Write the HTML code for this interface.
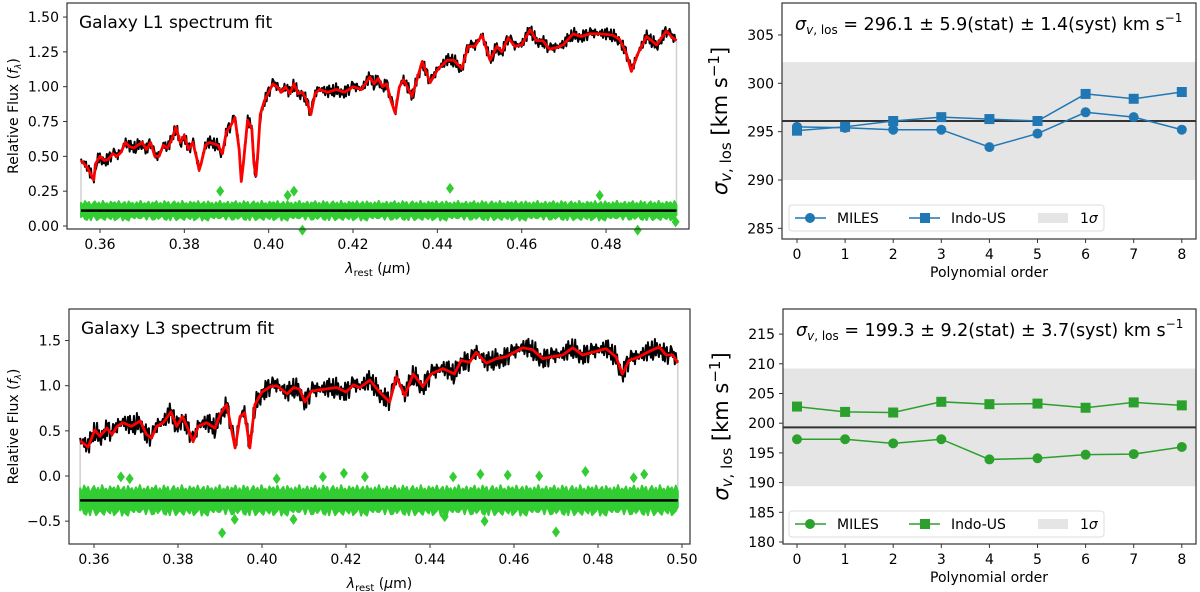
<!DOCTYPE html>
<html><head><meta charset="utf-8">
<style>
html,body{margin:0;padding:0;background:#fff;}
svg{display:block;font-family:"DejaVu Sans","Liberation Sans",sans-serif;}
</style></head>
<body>
<svg id="fig" width="1200" height="592" viewBox="0 0 1200 592" xmlns="http://www.w3.org/2000/svg"></svg>
<script>
// ---------- DATA ----------
const l1Wave = [0.3555,0.357,0.3585,0.359,0.360,0.361,0.362,0.363,0.364,0.365,0.366,0.367,0.368,0.369,0.370,0.371,0.372,0.373,0.374,0.375,0.376,0.377,0.378,0.379,0.380,0.381,0.382,0.383,0.3835,0.384,0.385,0.386,0.387,0.388,0.389,0.390,0.391,0.392,0.393,0.3935,0.394,0.395,0.396,0.3965,0.397,0.3975,0.398,0.399,0.400,0.401,0.402,0.403,0.404,0.405,0.406,0.407,0.408,0.409,0.410,0.411,0.412,0.414,0.416,0.418,0.420,0.422,0.424,0.425,0.426,0.427,0.428,0.429,0.430,0.431,0.432,0.434,0.4364,0.4383,0.440,0.4423,0.4439,0.4458,0.4473,0.4489,0.4506,0.4525,0.4541,0.4553,0.4568,0.4584,0.460,0.462,0.4635,0.465,0.4666,0.4682,0.4698,0.4722,0.4741,0.4761,0.4785,0.4816,0.4832,0.4848,0.486,0.4876,0.4896,0.492,0.4943,0.4955,0.4967];
const l1Model = [0.47,0.42,0.33,0.45,0.50,0.47,0.48,0.52,0.50,0.53,0.60,0.57,0.56,0.58,0.60,0.55,0.60,0.50,0.50,0.58,0.56,0.62,0.71,0.60,0.65,0.55,0.60,0.48,0.40,0.45,0.58,0.60,0.59,0.58,0.52,0.68,0.72,0.78,0.55,0.32,0.45,0.76,0.70,0.45,0.36,0.55,0.80,0.90,0.96,1.02,1.00,0.96,1.00,0.95,1.02,0.95,0.96,0.90,0.80,0.95,0.98,0.96,0.98,0.96,1.00,0.98,1.07,1.02,1.06,1.00,1.02,0.90,0.81,1.00,1.05,0.93,1.18,1.03,1.12,1.19,1.19,1.13,1.29,1.29,1.37,1.19,1.29,1.25,1.35,1.29,1.30,1.41,1.33,1.33,1.27,1.28,1.30,1.38,1.36,1.38,1.38,1.37,1.34,1.24,1.11,1.24,1.36,1.30,1.40,1.36,1.33];
const l1Resid = 0.11;
const l1Outliers = [[0.3885,0.25],[0.4045,0.22],[0.406,0.25],[0.408,-0.03],[0.443,0.27],[0.4785,0.22],[0.4875,-0.03],[0.4965,0.03]];

const l3Wave = [0.3567,0.3586,0.3602,0.3614,0.3631,0.3643,0.3655,0.3669,0.3689,0.3710,0.3725,0.3737,0.3749,0.3765,0.3783,0.3797,0.3811,0.3825,0.3836,0.3848,0.3868,0.3888,0.390,0.3916,0.3936,0.3948,0.3959,0.3971,0.3983,0.400,0.402,0.4035,0.406,0.4075,0.409,0.4102,0.4118,0.4146,0.4178,0.420,0.4218,0.4233,0.4257,0.428,0.4304,0.432,0.434,0.436,0.4383,0.4403,0.4431,0.4458,0.4474,0.4494,0.451,0.4534,0.4558,0.4581,0.4601,0.462,0.4644,0.4668,0.4692,0.4716,0.4740,0.4763,0.4787,0.4819,0.4843,0.4858,0.4874,0.4898,0.4918,0.4946,0.4962,0.4978,0.499];
const l3Model = [0.39,0.32,0.51,0.44,0.53,0.46,0.55,0.59,0.55,0.61,0.46,0.42,0.55,0.59,0.71,0.55,0.66,0.51,0.38,0.55,0.59,0.53,0.68,0.79,0.31,0.66,0.70,0.31,0.79,0.93,0.99,1.00,0.91,0.98,0.96,0.82,0.94,0.96,0.98,0.93,1.01,0.98,1.06,0.93,0.82,1.10,0.89,1.13,0.99,1.13,1.19,1.13,1.28,1.26,1.37,1.25,1.30,1.32,1.37,1.42,1.40,1.30,1.32,1.34,1.42,1.34,1.37,1.41,1.32,1.13,1.28,1.32,1.37,1.43,1.34,1.34,1.25];
const l3Resid = -0.27;
const l3Outliers = [[0.3664,-0.01],[0.3685,-0.03],[0.3905,-0.63],[0.3935,-0.48],[0.4075,-0.48],[0.4035,-0.03],[0.4145,-0.01],[0.4195,0.03],[0.4245,-0.01],[0.4455,-0.01],[0.452,0.02],[0.4585,0.01],[0.466,0.0],[0.477,0.05],[0.4885,-0.02],[0.491,0.02],[0.470,-0.62],[0.453,-0.5],[0.4435,-0.45]];

const noisePattern = [0.3,-0.8,0.9,-0.2,0.6,-1.0,0.1,0.8,-0.5,0.4,-0.9,1.0,-0.3,0.2,-0.7,0.7,-0.1,0.5,-0.6,0.9,-0.4,0.0,0.6,-1.0,0.8,-0.2,0.3,-0.8,0.5,-0.5,1.0,-0.6,0.2,-0.3,0.7,-0.9,0.4,-0.1,0.9,-0.7];

const orders = [0,1,2,3,4,5,6,7,8];
const l1Miles = [295.5,295.4,295.2,295.2,293.4,294.8,297.0,296.5,295.2];
const l1Indo  = [295.1,295.5,296.1,296.5,296.3,296.1,298.9,298.4,299.1];
const l1Sigma = [296.1,5.9,1.4];
const l1Band = [290.0,302.2];
const l1Ticks = [285,290,295,300,305];
const l3Miles = [197.3,197.3,196.6,197.3,193.9,194.1,194.7,194.8,196.0];
const l3Indo  = [202.8,201.9,201.8,203.6,203.2,203.3,202.6,203.5,203.0];
const l3Sigma = [199.3,9.2,3.7];
const l3Band = [189.4,209.2];
const l3Ticks = [180,185,190,195,200,205,210,215];
const l1FluxTicks = [0.00,0.25,0.50,0.75,1.00,1.25,1.50];
const l3FluxTicks = [-0.5,0.0,0.5,1.0,1.5];
const waveTicksTop = [0.36,0.38,0.40,0.42,0.44,0.46,0.48];
const waveTicksBot = [0.36,0.38,0.40,0.42,0.44,0.46,0.48,0.50];

// ---------- DRAWING ----------
const NS="http://www.w3.org/2000/svg";
const svg=document.getElementById('fig');
function mk(tag,attrs,parent){const e=document.createElementNS(NS,tag);for(const k in attrs)e.setAttribute(k,attrs[k]);(parent||svg).appendChild(e);return e;}
function interp(xs,ys,x){if(x<=xs[0])return ys[0];for(let i=1;i<xs.length;i++){if(x<=xs[i]){const t=(x-xs[i-1])/(xs[i]-xs[i-1]);return ys[i-1]+t*(ys[i]-ys[i-1]);}}return ys[ys.length-1];}

function spectrumPanel(o){
  const g=mk('g',{});
  
  
  const X=w=>o.x0+(w-o.w0)*o.kx, Y=f=>o.y0-f*o.ky;
  const wa=o.wave[0], wb=o.wave[o.wave.length-1];
  [wa,wb].forEach(w=>{const l=mk('line',{x1:X(w),x2:X(w),y1:Y(o.resid),y2:Y(interp(o.wave,o.model,w)),stroke:'#d0d0d0','stroke-width':1.5},g);
    });
  const N=300, up=[], lo=[];
  for(let i=0;i<=N;i++){const w=wa+(wb-wa)*i/N;const n=noisePattern[i%noisePattern.length], m=noisePattern[(i*7+3)%noisePattern.length];
    up.push(X(w)+','+Y(o.resid+o.band*(1+0.4*n)));lo.push(X(w)+','+Y(o.resid-o.band*(1+0.4*m)));}
  const band=mk('polygon',{points:up.concat(lo.reverse()).join(' '),fill:'#32cd32',stroke:'#32cd32','stroke-width':2,'stroke-linejoin':'round'},g);
  
  o.outliers.forEach(p=>{const cx=X(p[0]),cy=Y(p[1]);const d=mk('polygon',{points:`${cx},${cy-5.5} ${cx+4},${cy} ${cx},${cy+5.5} ${cx-4},${cy}`,fill:'#32cd32'},g);
    });
  const rl=mk('line',{x1:X(wa),x2:X(wb),y1:Y(o.resid),y2:Y(o.resid),stroke:'#000','stroke-width':2.5},g);
  
  const M=600,pts=[];
  for(let i=0;i<=M;i++){const w=wa+(wb-wa)*i/M;const n=noisePattern[(i*3)%noisePattern.length];pts.push(X(w)+','+Y(interp(o.wave,o.model,w)+o.noise*n));}
  const obs=mk('polyline',{points:pts.join(' '),fill:'none',stroke:'#000','stroke-width':2,'stroke-linejoin':'round'},g);
  
  const mp=o.wave.map((w,i)=>X(w)+','+Y(o.model[i])).join(' ');
  const mod=mk('polyline',{points:mp,fill:'none',stroke:'#ff0000','stroke-width':2.8,'stroke-linejoin':'round'},g);
  
  const fr=mk('rect',{x:o.L,y:o.T,width:o.R-o.L,height:o.B-o.T,fill:'none',stroke:'#333','stroke-width':1.2},g);
  
  o.yticks.forEach(t=>{const y=Y(t);mk('line',{x1:o.L-4,x2:o.L,y1:y,y2:y,stroke:'#333'},g);
    const tx=mk('text',{x:o.L-8,y:y+5,'text-anchor':'end','font-size':14,fill:'#000'},g);tx.textContent=t.toFixed(o.ydec).replace('-','\u2212');
    });
  o.xticks.forEach(t=>{const x=X(t);mk('line',{x1:x,x2:x,y1:o.B,y2:o.B+4,stroke:'#333'},g);
    const tx=mk('text',{x:x,y:o.B+20,'text-anchor':'middle','font-size':14,fill:'#000'},g);tx.textContent=t.toFixed(2);
    });
  const ti=mk('text',{x:o.L+12,y:o.T+25,'font-size':17,fill:'#000'},g);ti.textContent=o.title;
  
  const xl=mk('text',{x:(o.L+o.R)/2,y:o.B+44,'text-anchor':'middle','font-size':14,fill:'#000'},g);
  xl.innerHTML='<tspan font-style="italic">λ</tspan><tspan font-size="10" dy="3">rest</tspan><tspan dy="-3"> (</tspan><tspan font-style="italic">μ</tspan><tspan>m)</tspan>';
  
  const cy=(o.T+o.B)/2;
  const yl=mk('text',{x:14,y:cy,'text-anchor':'middle','font-size':14,fill:'#000',transform:`rotate(-90 14 ${cy})`,dy:4},g);
  yl.innerHTML='Relative Flux (<tspan font-style="italic">f</tspan><tspan font-size="9" font-style="italic" dy="3">λ</tspan><tspan dy="-3">)</tspan>';
  
}

function sigmaPanel(o){
  const g=mk('g',{});
  
  
  const X=i=>797+i*48.1, Y=v=>o.y0-(v-o.v0)*o.ky;
  const sh=mk('rect',{x:o.L,y:Y(o.band[1]),width:o.R-o.L,height:Y(o.band[0])-Y(o.band[1]),fill:'#e5e5e5'},g);
  
  const hl=mk('line',{x1:o.L,x2:o.R,y1:Y(o.sigma[0]),y2:Y(o.sigma[0]),stroke:'#333','stroke-width':2},g);
  
  [[o.miles,'circle','miles'],[o.indo,'square','indo-us']].forEach(s=>{
    const pl=mk('polyline',{points:orders.map(i=>X(i)+','+Y(s[0][i])).join(' '),fill:'none',stroke:o.color,'stroke-width':1.5},g);
    
    orders.forEach(i=>{let m;
      if(s[1]==='circle')m=mk('circle',{cx:X(i),cy:Y(s[0][i]),r:5,fill:o.color},g);
      else m=mk('rect',{x:X(i)-5,y:Y(s[0][i])-5,width:10,height:10,fill:o.color},g);
      });
  });
  const fr=mk('rect',{x:o.L,y:o.T,width:o.R-o.L,height:o.B-o.T,fill:'none',stroke:'#333','stroke-width':1.2},g);
  
  o.ticks.forEach(t=>{const y=Y(t);mk('line',{x1:o.L-4,x2:o.L,y1:y,y2:y,stroke:'#333'},g);
    const tx=mk('text',{x:o.L-8,y:y+5,'text-anchor':'end','font-size':14,fill:'#000'},g);tx.textContent=t;
    });
  orders.forEach(i=>{const x=X(i);mk('line',{x1:x,x2:x,y1:o.B,y2:o.B+4,stroke:'#333'},g);
    const tx=mk('text',{x:x,y:o.B+20,'text-anchor':'middle','font-size':14,fill:'#000'},g);tx.textContent=i;
    });
  const xl=mk('text',{x:989,y:o.B+38,'text-anchor':'middle','font-size':14,fill:'#000'},g);xl.textContent='Polynomial order';
  
  const cy=(o.T+o.B)/2, cx=o.L-55;
  const yl=mk('text',{x:cx,y:cy,'text-anchor':'middle','font-size':21,fill:'#000',transform:`rotate(-90 ${cx} ${cy})`},g);
  yl.innerHTML='<tspan font-style="italic">σ</tspan><tspan font-size="15" dy="4"><tspan font-style="italic">v</tspan>, los</tspan><tspan dy="-4"> [km s</tspan><tspan font-size="15" dy="-8">−1</tspan><tspan dy="8">]</tspan>';
  
  const an=mk('text',{x:o.L+13,y:o.T+27,'font-size':17.5,fill:'#000'},g);
  an.innerHTML=`<tspan font-style="italic">σ</tspan><tspan font-size="12" dy="4"><tspan font-style="italic">v</tspan>, los</tspan><tspan dy="-4"> = ${o.sigma[0].toFixed(1)} ± ${o.sigma[1].toFixed(1)}(stat) ± ${o.sigma[2].toFixed(1)}(syst) km s</tspan><tspan font-size="12" dy="-8">−1</tspan>`;
  
  const ly=o.legY;
  const lg=mk('g',{},g);
  const lb=mk('rect',{x:789,y:ly-13,width:315,height:26,rx:3,fill:'#fff',stroke:'#ddd','stroke-width':1},lg);
  
  mk('line',{x1:795,x2:826,y1:ly,y2:ly,stroke:o.color,'stroke-width':1.5},lg);
  mk('circle',{cx:810,cy:ly,r:5,fill:o.color},lg);
  const t1=mk('text',{x:837,y:ly+5,'font-size':14},lg);t1.textContent='MILES';
  
  mk('line',{x1:909,x2:940,y1:ly,y2:ly,stroke:o.color,'stroke-width':1.5},lg);
  mk('rect',{x:920,y:ly-5,width:10,height:10,fill:o.color},lg);
  const t2=mk('text',{x:951,y:ly+5,'font-size':14},lg);t2.textContent='Indo-US';
  
  mk('rect',{x:1038,y:ly-5,width:30,height:10,fill:'#e5e5e5'},lg);
  const t3=mk('text',{x:1080,y:ly+5,'font-size':14},lg);t3.innerHTML='1<tspan font-style="italic">σ</tspan>';
  
}

spectrumPanel({name:'l1-spectrum-panel',title:'Galaxy L1 spectrum fit',wave:l1Wave,model:l1Model,resid:l1Resid,outliers:l1Outliers,band:0.05,noise:0.045,
  L:67,R:689,T:3,B:229,x0:100,w0:0.36,kx:4217,y0:226,ky:139.3,yticks:l1FluxTicks,ydec:2,xticks:waveTicksTop});
spectrumPanel({name:'l3-spectrum-panel',title:'Galaxy L3 spectrum fit',wave:l3Wave,model:l3Model,resid:l3Resid,outliers:l3Outliers,band:0.12,noise:0.11,
  L:69,R:690,T:309,B:544,x0:94,w0:0.36,kx:4200,y0:476,ky:90.3,yticks:l3FluxTicks,ydec:1,xticks:waveTicksBot});
sigmaPanel({name:'l1-sigma-panel',color:'#1f77b4',miles:l1Miles,indo:l1Indo,sigma:l1Sigma,band:l1Band,ticks:l1Ticks,
  L:782,R:1196,T:3,B:239,y0:180,v0:290,ky:9.67,legY:218});
sigmaPanel({name:'l3-sigma-panel',color:'#2ca02c',miles:l3Miles,indo:l3Indo,sigma:l3Sigma,band:l3Band,ticks:l3Ticks,
  L:783,R:1196,T:309,B:544,y0:542,v0:180,ky:5.94,legY:524});
</script>
</body></html>
